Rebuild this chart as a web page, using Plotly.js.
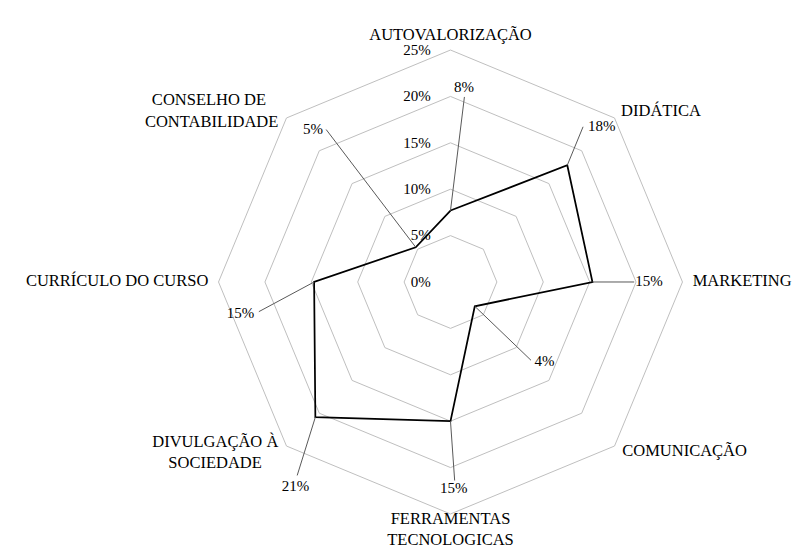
<!DOCTYPE html>
<html><head><meta charset="utf-8">
<script src="https://cdn.plot.ly/plotly-3.0.1.min.js"></script>
<style>html,body{margin:0;padding:0;background:#fff}#chart{width:808px;height:553px}</style>
</head><body><div id="chart"></div>
<script>
// ---- data ----
const categories = ['AUTOVALORIZAÇÃO','DIDÁTICA','MARKETING','COMUNICAÇÃO','FERRAMENTAS TECNOLOGICAS','DIVULGAÇÃO À SOCIEDADE','CURRÍCULO DO CURSO','CONSELHO DE CONTABILIDADE'];
const categoryLabels = ['AUTOVALORIZAÇÃO','DIDÁTICA','MARKETING','COMUNICAÇÃO','FERRAMENTAS<br>TECNOLOGICAS','DIVULGAÇÃO À<br>SOCIEDADE\u00A0\u00A0\u00A0\u00A0','CURRÍCULO DO CURSO','CONSELHO DE\u00A0\u00A0\u00A0<br>CONTABILIDADE'];
const values = [7.7, 17.8, 15.3, 3.7, 15.0, 20.6, 14.7, 5.3];
const radialTicks = [0, 5, 10, 15, 20, 25];
const radialTickText = radialTicks.map(v => v + '%');

// ---- label placement (polar r in %, theta in degrees clockwise from top) ----
const categoryLabelPos = [[25.6,0],[26.0,45],[26.1,90],[26.0,134.6],[24.75,180],[26.2,225.1],[26.1,270],[26.1,314.7]];
const categoryTextPos = ['top center','middle right','middle right','middle right','bottom center','middle left','middle left','middle left'];
const valueLabelPos = [[20.9,4.0],[23.3,44.4],[21.4,90],[13.3,130.3],[22.35,179.1],[27.7,217.1],[22.9,261.4],[22.1,317.9]];
const leaderEndPos = [[20.0,4.3],[22.0,40.5],[19.8,90],[12.1,134.2],[21.4,178.8],[26.6,218.4],[20.9,261.2],[21.2,320.8]];

const FONT = 'Liberation Serif, Times New Roman, serif';
const step = 360 / categories.length;

// data polygon (closed) on the category polar
const dataTrace = {
  type: 'scatterpolar', subplot: 'polar',
  r: values.concat([values[0]]),
  theta: categories.concat([categories[0]]),
  mode: 'lines', line: {color: '#000000', width: 1.75},
  hoverinfo: 'skip', showlegend: false
};

// leader lines on overlay polar
const lr = [], lt = [];
values.forEach((v, i) => {
  lr.push(v, leaderEndPos[i][0], null);
  lt.push(i * step, leaderEndPos[i][1], null);
});
const leaderTrace = {
  type: 'scatterpolar', subplot: 'polar2',
  r: lr, theta: lt, mode: 'lines',
  line: {color: '#595959', width: 1},
  connectgaps: false, hoverinfo: 'skip', showlegend: false
};

const valueLabelTrace = {
  type: 'scatterpolar', subplot: 'polar2',
  r: valueLabelPos.map(p => p[0]), theta: valueLabelPos.map(p => p[1]),
  mode: 'text', text: values.map(v => Math.round(v) + '%'),
  textposition: 'middle center',
  textfont: {family: FONT, size: 15, color: '#000000'},
  cliponaxis: false, hoverinfo: 'skip', showlegend: false
};

const categoryLabelTrace = {
  type: 'scatterpolar', subplot: 'polar2',
  r: categoryLabelPos.map(p => p[0]), theta: categoryLabelPos.map(p => p[1]),
  mode: 'text', text: categoryLabels,
  textposition: categoryTextPos,
  textfont: {family: FONT, size: 16.5, color: '#000000'},
  cliponaxis: false, hoverinfo: 'skip', showlegend: false
};

const dom = {x: [0.2360, 0.8791], y: [0.02025, 0.95986]};
const rRange = [0, 28];

const layout = {
  width: 808, height: 553,
  margin: {l: 0, r: 0, t: 0, b: 0},
  paper_bgcolor: '#ffffff',
  font: {family: FONT, size: 15, color: '#000000'},
  showlegend: false,
  polar: {
    domain: dom, bgcolor: 'rgba(0,0,0,0)', gridshape: 'linear', hole: 0,
    radialaxis: {
      range: rRange, angle: 90, side: 'counterclockwise',
      tickmode: 'array', tickvals: radialTicks, ticktext: radialTickText,
      showline: false, showgrid: true, gridcolor: '#bfbfbf', gridwidth: 1,
      ticks: 'outside', ticklen: 14, tickcolor: 'rgba(0,0,0,0)',
      tickfont: {family: FONT, size: 15, color: '#000000'},
      tickangle: 90
    },
    angularaxis: {
      type: 'category', categoryorder: 'array', categoryarray: categories,
      direction: 'clockwise', rotation: 90,
      showgrid: false, showline: false, showticklabels: false, ticks: ''
    }
  },
  polar2: {
    domain: dom, bgcolor: 'rgba(0,0,0,0)',
    radialaxis: {range: rRange, visible: false, showgrid: false},
    angularaxis: {type: 'linear', thetaunit: 'degrees', direction: 'clockwise', rotation: 90,
      visible: false, showgrid: false, showline: false, showticklabels: false, ticks: ''}
  }
};

Plotly.newPlot('chart', [dataTrace, leaderTrace, valueLabelTrace, categoryLabelTrace], layout,
  {displayModeBar: false, staticPlot: true});
</script>
</body></html>
